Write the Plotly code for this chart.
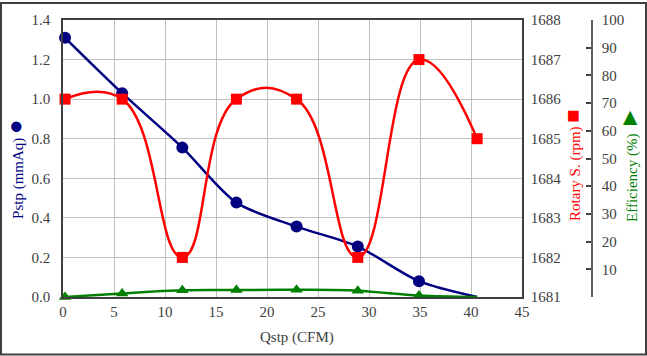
import plotly.graph_objects as go

qstp = [0.2, 5.8, 11.7, 17.0, 22.9, 28.9, 34.9, 40.6]
pstp = [1.31, 1.03, 0.755, 0.477, 0.356, 0.255, 0.08, 0.0]
rotary = [1686, 1686, 1682, 1686, 1686, 1682, 1687, 1685]
eff = [0.0, 1.3, 2.4, 2.5, 2.6, 2.3, 0.5, 0.0]

x_ticks = [0, 5, 10, 15, 20, 25, 30, 35, 40, 45]
p_ticks = [0.0, 0.2, 0.4, 0.6, 0.8, 1.0, 1.2, 1.4]
r_ticks = [1681, 1682, 1683, 1684, 1685, 1686, 1687, 1688]
e_ticks = [0, 10, 20, 30, 40, 50, 60, 70, 80, 90, 100]

FONT = "Liberation Serif, Times New Roman, serif"
TICKC = "#404040"
navy = "#000080"
red = "#FF0000"
green = "#008000"

fig = go.Figure()

fig.add_trace(go.Scatter(
    x=qstp, y=pstp, mode="lines+markers", yaxis="y",
    line=dict(color=navy, width=2.5, shape="spline", smoothing=0.8),
    marker=dict(symbol="circle", size=[12]*7 + [0], color=navy, opacity=1, line=dict(width=0)),
    cliponaxis=False, showlegend=False))

fig.add_trace(go.Scatter(
    x=qstp, y=rotary, mode="lines+markers", yaxis="y2",
    line=dict(color=red, width=2.5, shape="spline", smoothing=1.3),
    marker=dict(symbol="square", size=11, color=red, opacity=1, line=dict(width=0)),
    cliponaxis=False, showlegend=False))

fig.add_trace(go.Scatter(
    x=qstp, y=eff, mode="lines+markers", yaxis="y3",
    line=dict(color=green, width=2.5, shape="spline", smoothing=1.0),
    marker=dict(symbol="triangle-up", size=[11]*7 + [0], color=green, opacity=1, line=dict(width=0)),
    cliponaxis=False, showlegend=False))

W = 647 - 63 - 55
dom_end = (522 - 63) / W

tf = dict(family=FONT, size=15, color=TICKC)

fig.update_layout(
    width=647, height=356,
    margin=dict(l=63, r=55, t=18, b=59),
    paper_bgcolor="white", plot_bgcolor="white",
    font=dict(family=FONT, size=15, color=TICKC),
    hovermode=False,
    xaxis=dict(
        domain=[0, dom_end], range=[0, 45], tickvals=x_ticks,
        showgrid=True, gridcolor="#C0C0C0", gridwidth=1,
        showline=True, linecolor="#404040", linewidth=1.5, mirror=True,
        ticks="", zeroline=False, tickfont=tf,
    ),
    yaxis=dict(
        range=[0, 1.4], tickvals=p_ticks, tickformat=".1f",
        showgrid=True, gridcolor="#C0C0C0", gridwidth=1,
        showline=True, linecolor="#404040", linewidth=1.5,
        ticks="", zeroline=False, tickfont=tf, ticklabelstandoff=8,
    ),
    yaxis2=dict(
        range=[1681, 1688], tickvals=r_ticks, overlaying="y", side="right",
        anchor="x", showgrid=False, showline=True, linecolor="#404040", linewidth=1.5,
        ticks="", zeroline=False, tickfont=tf, ticklabelstandoff=4,
    ),
    yaxis3=dict(
        range=[0, 100], tickvals=e_ticks,
        ticktext=[""] + [str(v) for v in e_ticks[1:]],
        overlaying="y", side="right", anchor="free", position=1.0,
        showgrid=False, showline=True, linecolor="#606060", linewidth=1.5,
        ticks="inside", ticklen=5, tickcolor="#404040", tickwidth=1.5,
        zeroline=False, tickfont=tf, ticklabelstandoff=6,
    ),
)

fig.add_annotation(
    xref="paper", yref="paper", x=(297 - 63) / W, y=-(338 - 297) / 279,
    text="Qstp (CFM)", showarrow=False, xanchor="center", yanchor="middle",
    font=dict(family=FONT, size=15, color=TICKC))

fig.add_annotation(
    xref="paper", yref="paper", x=(15 - 63) / W, y=(297 - 168) / 279,
    text="Pstp (mmAq) <span style='font-size:24px'>●</span>", textangle=-90,
    showarrow=False, xanchor="center", yanchor="middle",
    font=dict(family=FONT, size=15, color=navy))

fig.add_annotation(
    xref="paper", yref="paper", x=(573 - 63) / W, y=(297 - 164) / 279,
    text="Rotary S. (rpm) <span style='font-size:22px'>■</span>", textangle=-90,
    showarrow=False, xanchor="center", yanchor="middle",
    font=dict(family=FONT, size=15, color=red))

fig.add_annotation(
    xref="paper", yref="paper", x=(629 - 63) / W, y=(297 - 163) / 279,
    text="Efficiency (%) <span style='font-size:24px'>►</span>", textangle=-90,
    showarrow=False, xanchor="center", yanchor="middle",
    font=dict(family=FONT, size=15, color=green))

# outer frame
fig.add_shape(type="rect", xref="paper", yref="paper",
              x0=(1 - 63) / W, x1=(646 - 63) / W,
              y0=-(355 - 297) / 279, y1=(297 - 1) / 279,
              line=dict(color="#404040", width=2), fillcolor="rgba(0,0,0,0)", layer="above")

fig.write_html("out.html",
               config={"displayModeBar": False},
               post_script="document.body.style.margin='0';document.body.style.padding='0';")
